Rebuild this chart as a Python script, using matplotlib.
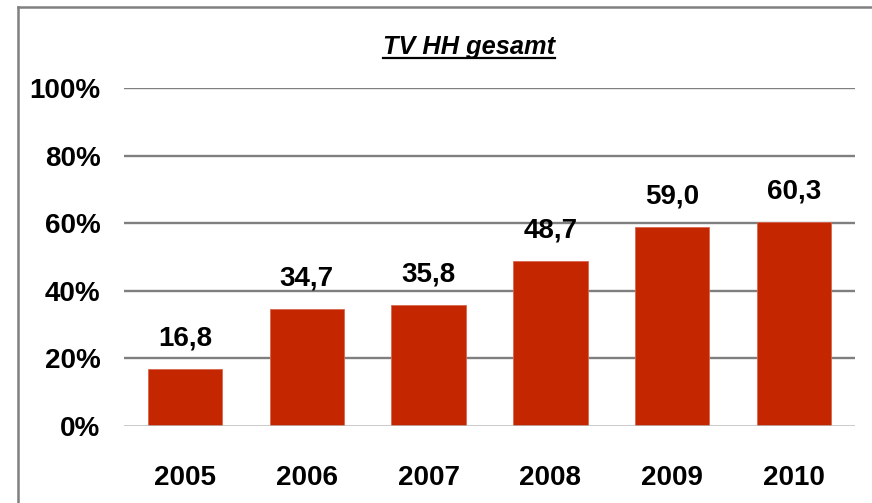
import matplotlib
matplotlib.use("Agg")
import matplotlib.pyplot as plt
from matplotlib.lines import Line2D

years = ["2005", "2006", "2007", "2008", "2009", "2010"]
values = [16.8, 34.7, 35.8, 48.7, 59.0, 60.3]
yticks = [0, 20, 40, 60, 80, 100]
title = "TV HH gesamt"

plt.rcParams["font.family"] = ["Liberation Sans", "DejaVu Sans"]
plt.rcParams["font.weight"] = "bold"

W, H = 872, 503
fig = plt.figure(figsize=(W / 100, H / 100), dpi=100)
ax = fig.add_axes([124 / W, 77 / H, (855 - 124) / W, (426 - 88) / H])

x = list(range(len(years)))
ax.bar(x, values, width=0.61, color="#c42600", edgecolor="#d9664d", linewidth=0.6, zorder=3)

for xi, v in zip(x, values):
    label = ("%.1f" % v).replace(".", ",")
    ax.annotate(label, (xi, v), xytext=(0, 22), textcoords="offset points",
                ha="center", va="center", fontsize=20, fontweight="bold")

ax.set_xlim(-0.5, len(years) - 0.5)
ax.set_ylim(0, 100)
ax.set_yticks(yticks)
ax.set_yticklabels(["%d%%" % t for t in yticks], fontsize=20, fontweight="bold")
ax.set_xticks(x)
ax.set_xticklabels(years, fontsize=20, fontweight="bold")
ax.tick_params(axis="y", length=0, pad=17)
ax.tick_params(axis="x", length=0, pad=28)

for t in yticks[1:]:
    ax.axhline(t, color="#7f7f7f", linewidth=1.7, zorder=1)
ax.axhline(0, color="#bcbcbc", linewidth=1.8, zorder=4)
for s in ax.spines.values():
    s.set_visible(False)

# title with underline
tt = fig.text(469 / W, 1 - 47 / H, title, ha="center", va="center",
              fontsize=18.3, fontweight="bold", fontstyle="italic")
fig.canvas.draw()
bb = tt.get_window_extent()
uy = (H - 58) / H
fig.add_artist(Line2D([bb.x0 / W, bb.x1 / W], [uy, uy], color="black", linewidth=1.6))

# outer frame (left and top edges visible)
fig.add_artist(Line2D([17.5 / W, 17.5 / W], [-0.01, 1 - 6.5 / H], color="#808080", linewidth=1.8))
fig.add_artist(Line2D([17.5 / W, 1.01], [1 - 6.5 / H, 1 - 6.5 / H], color="#808080", linewidth=1.8))

fig.savefig("out.png", dpi=100)
